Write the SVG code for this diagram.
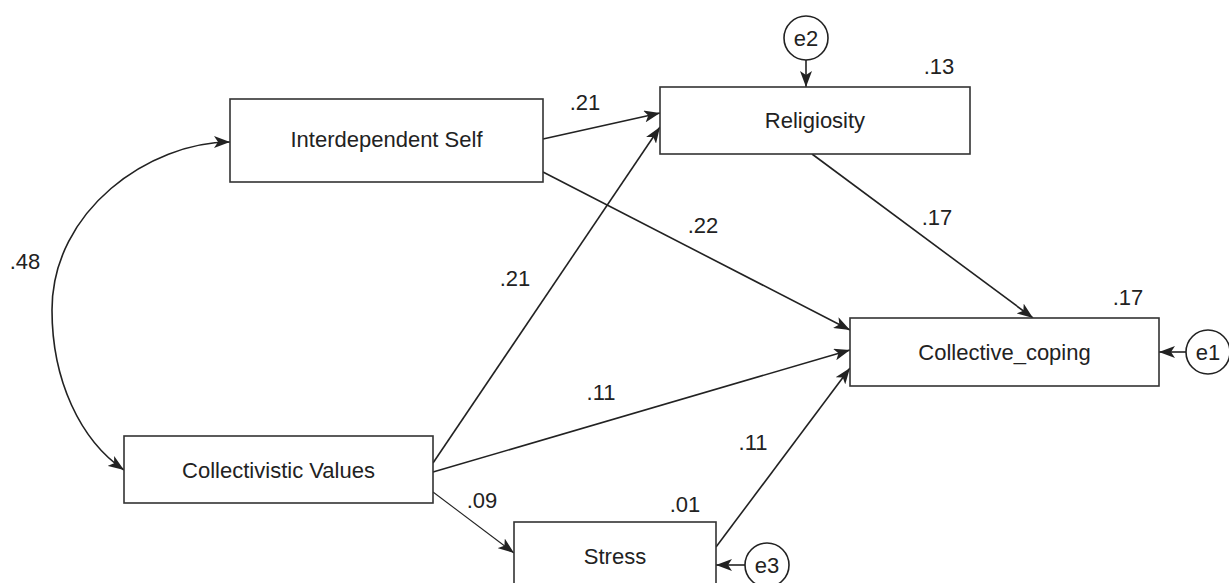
<svg xmlns="http://www.w3.org/2000/svg" width="1229" height="583" viewBox="0 0 1229 583">
  <style>
    .box { fill: #ffffff; stroke: #333333; stroke-width: 1.6; }
    .err { fill: #ffffff; stroke: #222222; stroke-width: 1.6; }
    .label { font-family: "Liberation Sans", Arial, sans-serif; font-size: 22px; fill: #222222; text-anchor: middle; }
    .coef { font-family: "Liberation Sans", Arial, sans-serif; font-size: 22px; fill: #222222; text-anchor: middle; }
    .path { fill: none; stroke: #222222; stroke-width: 1.6; }
    .thin { stroke-width: 1.1; }
  </style>
  <defs>
    <marker id="arrow" viewBox="0 0 16 12" refX="16" refY="6" markerWidth="16" markerHeight="12" markerUnits="userSpaceOnUse" orient="auto">
      <path d="M0,0 L16,6 L0,12 L4,6 Z" fill="#222222"/>
    </marker>
    <marker id="arrowStart" viewBox="0 0 16 12" refX="16" refY="6" markerWidth="16" markerHeight="12" markerUnits="userSpaceOnUse" orient="auto-start-reverse">
      <path d="M0,0 L16,6 L0,12 L4,6 Z" fill="#222222"/>
    </marker>
  </defs>

  <!-- paths and covariance -->
  <g id="connectors">
    <path class="path" d="M230,142 C150,142 52,210 52,310 C52,380 80,440 124,470" marker-start="url(#arrowStart)" marker-end="url(#arrow)"/>
    <line class="path" x1="543" y1="139" x2="660" y2="113" marker-end="url(#arrow)"/>
    <line class="path" x1="433" y1="463" x2="660" y2="127" marker-end="url(#arrow)"/>
    <line class="path" x1="543" y1="172" x2="850" y2="330" marker-end="url(#arrow)"/>
    <line class="path" x1="812" y1="154" x2="1033" y2="318" marker-end="url(#arrow)"/>
    <line class="path" x1="433" y1="472" x2="850" y2="350" marker-end="url(#arrow)"/>
    <line class="path" x1="716" y1="547" x2="850" y2="368" marker-end="url(#arrow)"/>
    <line class="path thin" x1="433" y1="492" x2="514" y2="553" marker-end="url(#arrow)"/>
    <line class="path" x1="806" y1="60" x2="806" y2="87" marker-end="url(#arrow)"/>
    <line class="path" x1="1186" y1="352" x2="1159" y2="352" marker-end="url(#arrow)"/>
    <line class="path" x1="745" y1="565" x2="716" y2="565" marker-end="url(#arrow)"/>
  </g>

  <!-- coefficients -->
  <g id="coefficients">
    <text class="coef" x="25" y="269">.48</text>
    <text class="coef" x="585" y="110">.21</text>
    <text class="coef" x="939" y="74">.13</text>
    <text class="coef" x="703" y="233">.22</text>
    <text class="coef" x="515" y="286">.21</text>
    <text class="coef" x="937" y="225">.17</text>
    <text class="coef" x="1128" y="305">.17</text>
    <text class="coef" x="601" y="400">.11</text>
    <text class="coef" x="753" y="450">.11</text>
    <text class="coef" x="482" y="508">.09</text>
    <text class="coef" x="685" y="512">.01</text>
  </g>

  <g id="interdependent-self">
    <rect class="box" x="230" y="99" width="313" height="83"/>
    <text class="label" x="386.5" y="147">Interdependent Self</text>
  </g>
  <g id="collectivistic-values">
    <rect class="box" x="124" y="436" width="309" height="67"/>
    <text class="label" x="278.5" y="478">Collectivistic Values</text>
  </g>
  <g id="religiosity">
    <rect class="box" x="660" y="87" width="310" height="67"/>
    <text class="label" x="815" y="128">Religiosity</text>
  </g>
  <g id="collective-coping">
    <rect class="box" x="850" y="318" width="309" height="68"/>
    <text class="label" x="1004.5" y="360">Collective_coping</text>
  </g>
  <g id="stress">
    <rect class="box" x="514" y="522" width="202" height="70"/>
    <text class="label" x="615" y="564">Stress</text>
  </g>
  <g id="e1">
    <circle class="err" cx="1208" cy="352" r="22"/>
    <text class="label" x="1208" y="360">e1</text>
  </g>
  <g id="e2">
    <circle class="err" cx="806" cy="38" r="22"/>
    <text class="label" x="806" y="46">e2</text>
  </g>
  <g id="e3">
    <circle class="err" cx="767" cy="565" r="22"/>
    <text class="label" x="767" y="573">e3</text>
  </g>
</svg>
